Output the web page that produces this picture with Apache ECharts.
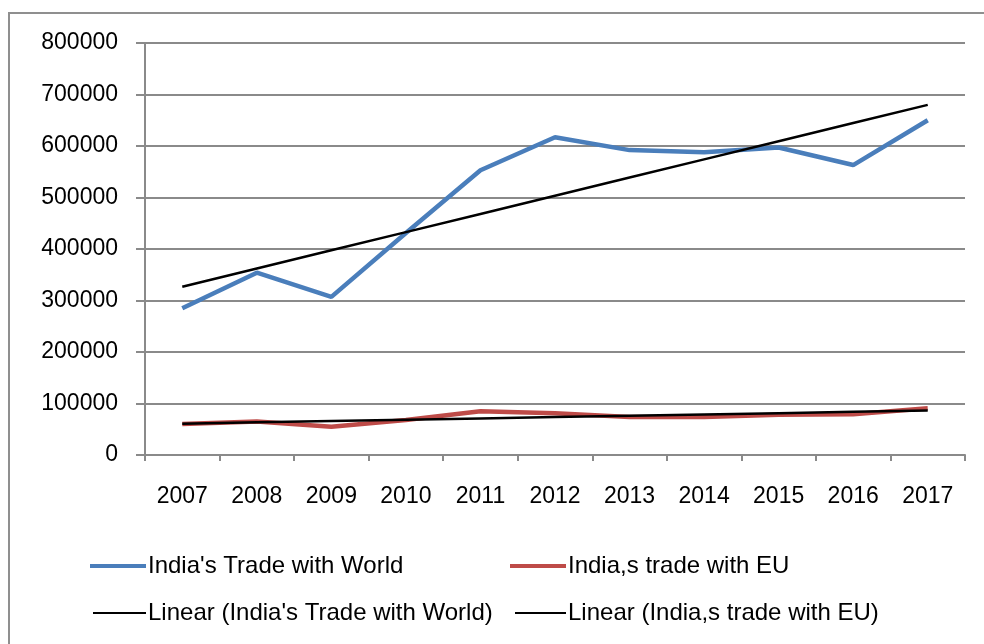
<!DOCTYPE html>
<html>
<head>
<meta charset="utf-8">
<script src="https://cdn.jsdelivr.net/npm/echarts@6/dist/echarts.min.js"></script>
<style>
html,body{margin:0;padding:0;background:#fff;}
#chart{width:984px;height:644px;}
</style>
</head>
<body>
<div id="chart"></div>
<script>
const categories = ['2007','2008','2009','2010','2011','2012','2013','2014','2015','2016','2017'];
const worldTrade = [285000, 354000, 307000, 431000, 553000, 617000, 592000, 588000, 597000, 563000, 650000];
const euTrade = [60000, 65000, 55000, 68000, 85000, 81000, 74000, 74000, 78000, 79000, 91000];
const yTicks = [0, 100000, 200000, 300000, 400000, 500000, 600000, 700000, 800000];

const nameWorld = "India's Trade with World";
const nameEU = "India,s trade with EU";
const nameWorldLin = "Linear (India's Trade with World)";
const nameEULin = "Linear (India,s trade with EU)";

// Least-squares linear trendline (as Excel's "Linear" trendline)
function linearFit(vals) {
  const n = vals.length;
  let sx = 0, sy = 0, sxy = 0, sxx = 0;
  vals.forEach((v, i) => { sx += i; sy += v; sxy += i * v; sxx += i * i; });
  const b = (n * sxy - sx * sy) / (n * sxx - sx * sx);
  const a = (sy - b * sx) / n;
  return vals.map((v, i) => a + b * i);
}

const FONT = 'Liberation Sans, Arial, sans-serif';
const chart = echarts.init(document.getElementById('chart'));

function legendAt(name, left, top, w, h) {
  return {
    data: [name], left: left, top: top, orient: 'horizontal',
    itemWidth: w, itemHeight: h, icon: 'rect', padding: 0,
    selectedMode: false,
    textStyle: { fontFamily: FONT, fontSize: 24, color: '#000', lineHeight: 30, padding: [0,0,0,-3] }
  };
}

chart.setOption({
  animation: false,
  backgroundColor: '#fff',
  graphic: [{
    type: 'polyline',
    shape: { points: [[9, 700], [9, 13], [1000, 13]] },
    style: { stroke: '#8f8f8f', lineWidth: 2, fill: 'none' },
    silent: true
  }],
  grid: { left: 145, right: 19, top: 43, bottom: 189 },
  legend: [
    legendAt(nameWorld, 90, 551, 56, 4),
    legendAt(nameEU, 510, 551, 56, 4),
    legendAt(nameWorldLin, 93, 598, 53, 2),
    legendAt(nameEULin, 515, 598, 51, 2)
  ],
  xAxis: {
    type: 'category',
    data: categories,
    boundaryGap: true,
    axisLine: { lineStyle: { color: '#8a8a8a', width: 2 } },
    axisTick: { show: true, length: 6, lineStyle: { color: '#8a8a8a', width: 2 } },
    axisLabel: { fontFamily: FONT, fontSize: 23, color: '#000', margin: 30 },
    splitLine: { show: false }
  },
  yAxis: {
    type: 'value',
    min: yTicks[0],
    max: yTicks[yTicks.length - 1],
    interval: yTicks[1] - yTicks[0],
    axisLine: { show: true, lineStyle: { color: '#8a8a8a', width: 2 } },
    axisTick: { show: true, length: 9, lineStyle: { color: '#8a8a8a', width: 2 } },
    axisLabel: { fontFamily: FONT, fontSize: 23, color: '#000', margin: 27,
                 formatter: function (v) { return String(v); } },
    splitLine: { show: true, lineStyle: { color: '#8a8a8a', width: 2 } }
  },
  series: [
    {
      name: nameWorld, type: 'line', data: worldTrade, symbol: 'none',
      lineStyle: { color: '#4A7EBB', width: 4.5 }, itemStyle: { color: '#4A7EBB' }, z: 2
    },
    {
      name: nameEU, type: 'line', data: euTrade, symbol: 'none',
      lineStyle: { color: '#BE4B48', width: 4.5 }, itemStyle: { color: '#BE4B48' }, z: 2
    },
    {
      name: nameWorldLin, type: 'line', data: linearFit(worldTrade), symbol: 'none',
      lineStyle: { color: '#000', width: 2.5 }, itemStyle: { color: '#000' }, z: 3
    },
    {
      name: nameEULin, type: 'line', data: linearFit(euTrade), symbol: 'none',
      lineStyle: { color: '#000', width: 2.5 }, itemStyle: { color: '#000' }, z: 3
    }
  ]
});
</script>
</body>
</html>
